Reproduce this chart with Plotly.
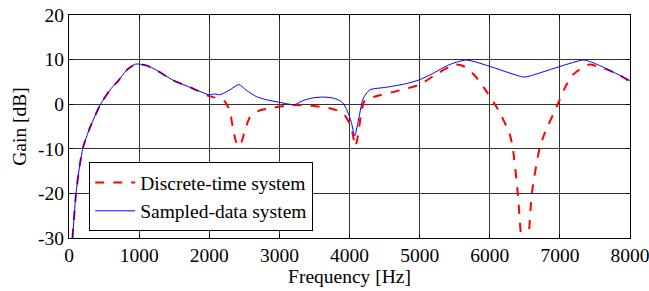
import plotly.graph_objects as go

# Discrete-time system (red dashed)
dt_freq = [50, 100, 150, 200, 300, 450, 600, 700, 820, 950, 1100, 1250, 1480, 1770, 2000, 2150, 2222,
           2290, 2336, 2380, 2420, 2460, 2507, 2578, 2720, 2863, 3077, 3220, 3433, 3718, 3860, 3932,
           4003, 4045, 4084, 4117, 4174, 4216, 4288, 4430, 4715, 5000, 5214, 5427, 5523, 5641,
           5783, 5926, 6068, 6140, 6282, 6330, 6400, 6448, 6470]
dt_gain = [-30, -20, -14, -9.7, -5.2, 0, 3.5, 5.2, 7.6, 9.0, 8.7, 7.6, 5.4, 3.5, 1.8, 1.2, 0.6,
           -1.4, -5.2, -8.3, -9.5, -8.5, -6.0, -3.0, -1.4, -0.9, -0.4, -0.2, -0.3, -0.9, -1.6, -2.5,
           -4.4, -6.6, -9.5, -7.4, -1.4, 0.8, 1.4, 2.0, 3.1, 4.4, 6.5, 8.4, 8.9, 8.4,
           6.5, 3.5, 0.1, -1.8, -6.6, -10, -20, -30, -32]
dt_freq2 = [6530, 6553, 6600, 6709, 6781, 6970, 7066, 7180, 7350, 7420, 7635, 7850, 8000]
dt_gain2 = [-32, -30, -20, -10, -6.6, 0, 3.5, 6.5, 8.5, 8.9, 8.0, 6.5, 5.1]

# Sampled-data system (blue solid)
sd_freq = [50, 100, 150, 200, 300, 450, 600, 700, 820, 950, 1100, 1250, 1480, 1770, 2000, 2080,
           2150, 2293, 2420, 2531, 2673, 2816, 3006, 3219, 3333, 3476, 3618, 3761, 3884, 3956,
           4027, 4074, 4136, 4193, 4288, 4525, 4810, 5000, 5190, 5400, 5665, 6472, 6543, 7326,
           7422, 7564, 7801, 8000]
sd_gain = [-30, -20, -14, -9.7, -5.2, 0, 3.5, 5.2, 7.6, 9.0, 8.7, 7.6, 5.4, 3.5, 2.1, 2.3,
           2.1, 3.2, 4.4, 3.1, 1.7, 1.0, 0.4, -0.1, 0.8, 1.4, 1.6, 1.4, 0.6, -1.0,
           -4.1, -7.1, -2.9, 1.2, 3.2, 3.8, 4.6, 5.5, 6.9, 8.7, 9.9, 6.1, 6.2, 9.9,
           9.6, 8.7, 6.9, 5.3]

x_ticks = [0, 1000, 2000, 3000, 4000, 5000, 6000, 7000, 8000]
y_ticks = [-30, -20, -10, 0, 10, 20]

font = "Liberation Serif"
fs = 19.5

fig = go.Figure()
fig.add_trace(go.Scatter(x=dt_freq + [None] + dt_freq2, y=dt_gain + [None] + dt_gain2,
                         mode="lines", name="Discrete-time system",
                         line=dict(color="#ff0000", width=2, dash="dash", shape="spline", smoothing=0.6),
                         connectgaps=False))
fig.add_trace(go.Scatter(x=sd_freq, y=sd_gain, mode="lines", name="Sampled-data system",
                         line=dict(color="#0000ff", width=1, shape="spline", smoothing=0.6)))

axis_common = dict(showline=True, linecolor="black", linewidth=1, mirror="ticks",
                   ticks="inside", ticklen=4, tickcolor="black", automargin=False,
                   ticklabeloverflow="allow",
                   showgrid=True, gridcolor="#333333", gridwidth=1, zeroline=False,
                   tickfont=dict(family=font, size=fs, color="black"))

fig.update_xaxes(range=[0, 8000], tickvals=x_ticks, ticktext=[str(v) for v in x_ticks],
                 title=dict(text="Frequency [Hz]", font=dict(family=font, size=fs, color="black"), standoff=3),
                 **axis_common)
fig.update_yaxes(range=[-30, 20], tickvals=y_ticks, ticktext=[str(v) for v in y_ticks],
                 title=dict(text="Gain [dB]", font=dict(family=font, size=fs, color="black"), standoff=6),
                 **axis_common)

fig.update_layout(
    width=649, height=291,
    margin=dict(l=69, r=19, t=15, b=53),
    paper_bgcolor="white", plot_bgcolor="white",
    font=dict(family=font, size=fs, color="black"),
    legend=dict(x=0.036, y=0.03, xanchor="left", yanchor="bottom",
                bgcolor="white", bordercolor="black", borderwidth=1,
                font=dict(family=font, size=fs, color="black"),
                tracegroupgap=0, itemwidth=40),
    showlegend=True,
)

# remove the default page margin so the figure fills the window exactly
fig.write_html("out.html",
               config={"displayModeBar": False},
               post_script="document.body.style.margin='0';document.body.style.overflow='hidden';")
